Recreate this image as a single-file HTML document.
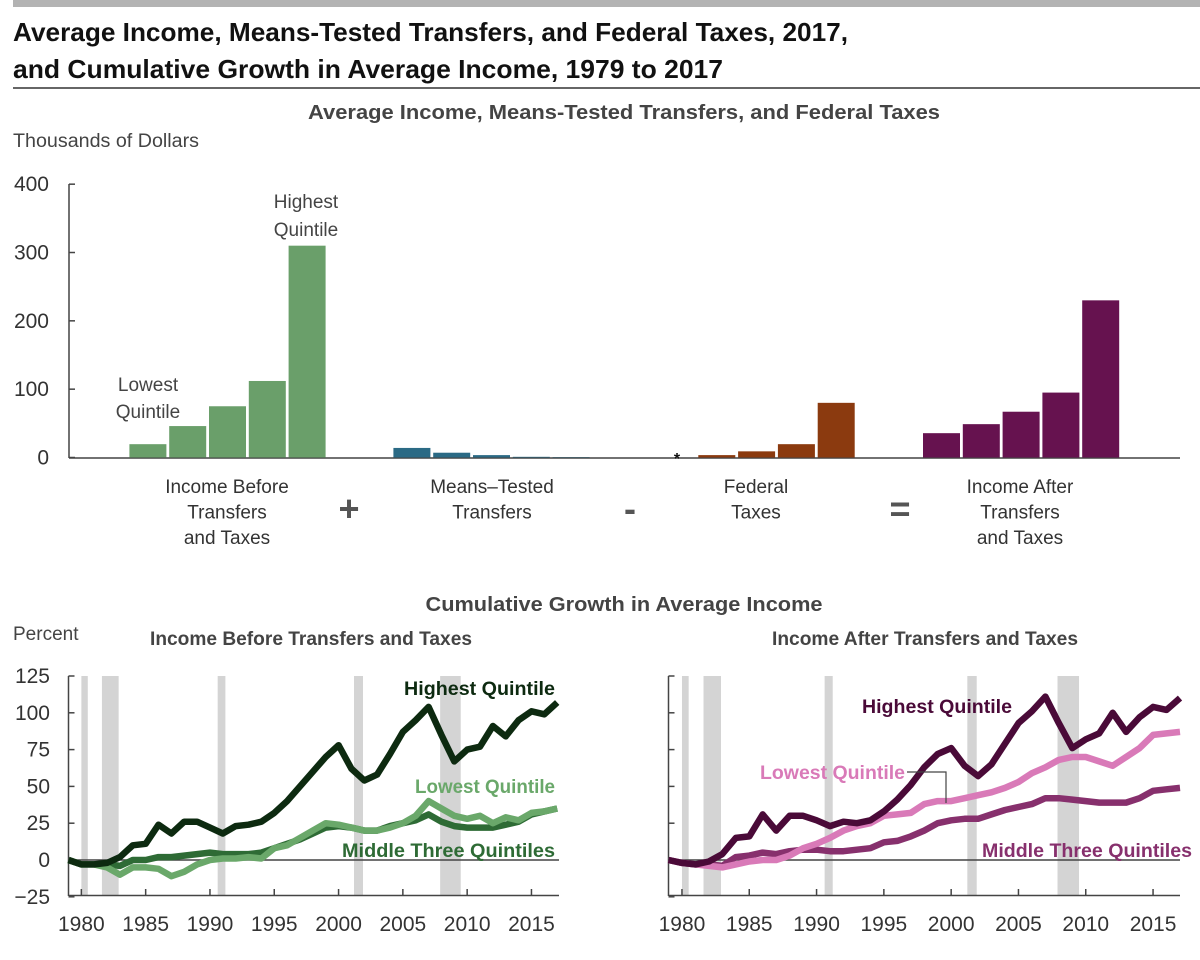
<!DOCTYPE html>
<html><head><meta charset="utf-8">
<style>
html,body{margin:0;padding:0;background:#fff;}
svg{display:block;font-family:"Liberation Sans",sans-serif;}
</style></head>
<body>
<svg id="chart" width="1200" height="960" viewBox="0 0 1200 960" xmlns="http://www.w3.org/2000/svg">
<rect x="13" y="0" width="1187" height="7" fill="#b3b3b3"/>
<text x="13" y="41" font-size="26" font-weight="bold" fill="#111" textLength="835" lengthAdjust="spacingAndGlyphs">Average Income, Means-Tested Transfers, and Federal Taxes, 2017,</text>
<text x="13" y="78" font-size="26" font-weight="bold" fill="#111" textLength="710" lengthAdjust="spacingAndGlyphs">and Cumulative Growth in Average Income, 1979 to 2017</text>
<rect x="13" y="87" width="1187" height="2" fill="#666"/>
<text x="624" y="119" font-size="20" font-weight="bold" fill="#444" text-anchor="middle" textLength="632" lengthAdjust="spacingAndGlyphs">Average Income, Means-Tested Transfers, and Federal Taxes</text>
<text x="13" y="147" font-size="19" fill="#444" textLength="186" lengthAdjust="spacingAndGlyphs">Thousands of Dollars</text>
<g id="bars"></g>
<text x="624" y="611" font-size="20" font-weight="bold" fill="#444" text-anchor="middle" textLength="397" lengthAdjust="spacingAndGlyphs">Cumulative Growth in Average Income</text>
<text x="13" y="640" font-size="19" fill="#444">Percent</text>
<text x="311" y="645" font-size="19" font-weight="bold" fill="#444" text-anchor="middle" textLength="322" lengthAdjust="spacingAndGlyphs">Income Before Transfers and Taxes</text>
<text x="925" y="645" font-size="19" font-weight="bold" fill="#444" text-anchor="middle" textLength="306" lengthAdjust="spacingAndGlyphs">Income After Transfers and Taxes</text>
<g id="left"></g>
<g id="right"></g>
</svg>
<script>
// ---- bar chart data (thousands of dollars) ----
const barGroups = ["Income Before Transfers and Taxes","Means-Tested Transfers","Federal Taxes","Income After Transfers and Taxes"];
const incomeBefore = [19.5, 46, 75, 112, 310];
const transfers = [14, 7, 3.5, 1, 0.5];
const taxes = [0, 3.5, 9, 19.5, 80];
const incomeAfter = [35.6, 48.8, 67, 95, 230];
const barTicks = [0, 100, 200, 300, 400];

// ---- line chart data (percent cumulative growth) ----
const years = [];
for (let y = 1979; y <= 2017; y++) years.push(y);
const beforeHighest = [0,-3,-3,-2,2,10,11,24,18,26,26,22,18,23,24,26,32,40,50,60,70,78,62,54,58,72,87,95,104,85,67,75,77,91,84,95,101,99,107];
const beforeLowest = [0,-3,-3,-5,-10,-5,-5,-6,-11,-8,-3,0,1,1,2,1,8,10,15,20,25,24,22,20,20,22,25,30,40,35,30,28,30,25,29,27,32,33,35];
const beforeMiddle = [0,-3,-3,-3,-4,0,0,2,2,3,4,5,4,4,4,5,8,11,14,18,22,23,22,20,20,23,25,27,31,26,23,22,22,22,24,26,31,33,35];
const afterHighest = [0,-2,-3,-1,4,15,16,31,20,30,30,27,23,26,25,27,33,41,51,63,72,76,64,57,65,79,93,101,111,93,76,82,86,100,87,97,104,102,110];
const afterLowest = [0,-2,-3,-4,-5,-3,-1,0,0,3,8,11,15,20,23,25,30,31,32,38,40,40,42,44,46,49,53,59,63,68,70,70,67,64,70,76,85,86,87];
const afterMiddle = [0,-2,-3,-3,-4,2,3,5,4,6,7,7,6,6,7,8,12,13,16,20,25,27,28,28,31,34,36,38,42,42,41,40,39,39,39,42,47,48,49];
const lineTicks = [-25, 0, 25, 50, 75, 100, 125];
const xTicks = [1980, 1985, 1990, 1995, 2000, 2005, 2010, 2015];
const recessions = [[1980.0,1980.5],[1981.6,1982.9],[1990.6,1991.2],[2001.2,2001.9],[2007.9,2009.5]];

const NS = "http://www.w3.org/2000/svg";
function mk(parent, tag, attrs, text) {
  const e = document.createElementNS(NS, tag);
  for (const k in attrs) e.setAttribute(k, attrs[k]);
  if (text !== undefined) e.textContent = text;
  parent.appendChild(e);
  return e;
}

// ---------- bar chart ----------
const bg = document.getElementById('bars');
const byVal = v => 457.5 - v * 0.6833;
mk(bg, 'line', {x1: 69, y1: 184, x2: 69, y2: 458, stroke: '#444', 'stroke-width': 1.5});
barTicks.forEach(t => {
  const l = mk(bg, 'line', {x1: 69, y1: byVal(t), x2: 75, y2: byVal(t), stroke: '#444', 'stroke-width': 1.5});
  
  
  const tx = mk(bg, 'text', {x: 49, y: byVal(t) + 7, 'font-size': 21, fill: '#333', 'text-anchor': 'end'}, String(t));
  
  
});
mk(bg, 'line', {x1: 69, y1: 458, x2: 1180, y2: 458, stroke: '#444', 'stroke-width': 1.5});
const groupData = [incomeBefore, transfers, taxes, incomeAfter];
const groupColors = ['#6a9f6a', '#2b6a85', '#8b3a0f', '#66124f'];
const groupStart = [129.4, 393.4, 658.5, 923];
const step = 39.8, bw = 37;
groupData.forEach((arr, gi) => {
  arr.forEach((v, i) => {
    const x = groupStart[gi] + i * step;
    if (v <= 0) {
      const s = mk(bg, 'text', {x: x + bw / 2, y: 464, 'font-size': 16, 'font-weight': 'bold', fill: '#111', 'text-anchor': 'middle'}, '*');
      
      
      return;
    }
    const r = mk(bg, 'rect', {x: x, y: byVal(v), width: bw, height: 457.5 - byVal(v), fill: groupColors[gi]});
    
    
  });
});
const gLabelX = [227, 492, 756, 1020];
const gLabelLines = [["Income Before","Transfers","and Taxes"],["Means–Tested","Transfers"],["Federal","Taxes"],["Income After","Transfers","and Taxes"]];
gLabelLines.forEach((lines, gi) => {
  lines.forEach((ln, j) => {
    const t = mk(bg, 'text', {x: gLabelX[gi], y: 493 + j * 25.5, 'font-size': 19, fill: '#333', 'text-anchor': 'middle'}, ln);
    
    
  });
});
[['+', 349, 'plus-sign'], ['-', 630, 'minus-sign'], ['=', 900, 'equals-sign']].forEach(o => {
  const t = mk(bg, 'text', {x: o[1], y: 521, 'font-size': 36, 'font-weight': 'bold', fill: '#555', 'text-anchor': 'middle'}, o[0]);
  
  
});
[['Lowest', 148, 391], ['Quintile', 148, 418], ['Highest', 306, 208], ['Quintile', 306, 236]].forEach(o => {
  const t = mk(bg, 'text', {x: o[1], y: o[2], 'font-size': 19, fill: '#444', 'text-anchor': 'middle'}, o[0]);
  
  
});

// ---------- line charts ----------
const yVal = v => 860 - v * 1.472;
function panel(gid, x0, pxPerYr, xEnd, showY, series, labels) {
  const g = document.getElementById(gid);
  const xYr = y => x0 + (y - 1979) * pxPerYr;
  recessions.forEach(r => {
    const rr = mk(g, 'rect', {x: xYr(r[0]), y: 676, width: xYr(r[1]) - xYr(r[0]), height: 219, fill: '#d4d4d4'});
    
    
  });
  mk(g, 'line', {x1: x0, y1: 676, x2: x0, y2: 896, stroke: '#444', 'stroke-width': 1.5});
  mk(g, 'line', {x1: x0, y1: 895.5, x2: xEnd, y2: 895.5, stroke: '#444', 'stroke-width': 1.5});
  mk(g, 'line', {x1: x0, y1: yVal(0), x2: xEnd, y2: yVal(0), stroke: '#444', 'stroke-width': 1.5});
  lineTicks.forEach(t => {
    const l = mk(g, 'line', {x1: x0, y1: yVal(t), x2: x0 + 6, y2: yVal(t), stroke: '#444', 'stroke-width': 1.5});
    
    
    if (showY) {
      const tx = mk(g, 'text', {x: 50, y: yVal(t) + 7, 'font-size': 21, fill: '#333', 'text-anchor': 'end'}, t < 0 ? '−' + Math.abs(t) : String(t));
      
      
    }
  });
  xTicks.forEach(y => {
    const l = mk(g, 'line', {x1: xYr(y), y1: 889, x2: xYr(y), y2: 896, stroke: '#444', 'stroke-width': 1.5});
    
    
    const tx = mk(g, 'text', {x: xYr(y), y: 931, 'font-size': 21, fill: '#333', 'text-anchor': 'middle'}, String(y));
    
    
  });
  series.forEach(s => {
    const d = s.vals.map((v, i) => (i ? 'L' : 'M') + xYr(years[i]).toFixed(1) + ',' + yVal(v).toFixed(1)).join(' ');
    const p = mk(g, 'path', {d: d, fill: 'none', stroke: s.color, 'stroke-width': 6.5, 'stroke-linejoin': 'round'});
    
    
  });
  labels.forEach(lb => {
    const t = mk(g, 'text', {x: lb.x, y: lb.y, 'font-size': 19, 'font-weight': 'bold', fill: lb.color, 'text-anchor': lb.anchor || 'end', textLength: lb.w, lengthAdjust: 'spacingAndGlyphs'}, lb.text);
    
    
  });
}
panel('left', 68.5, 12.86, 559, true, [
  {vals: beforeMiddle, color: '#2e6b35', name: 'line-before-middle'},
  {vals: beforeLowest, color: '#6aa86a', name: 'line-before-lowest'},
  {vals: beforeHighest, color: '#0d2a10', name: 'line-before-highest'}
], [
  {x: 555, y: 695, text: 'Highest Quintile', color: '#0d2a10', w: 151, name: 'label-before-highest'},
  {x: 555, y: 793, text: 'Lowest Quintile', color: '#6aa86a', w: 140, name: 'label-before-lowest'},
  {x: 555, y: 857, text: 'Middle Three Quintiles', color: '#2e6b35', w: 213, name: 'label-before-middle'}
]);
panel('right', 668.5, 13.46, 1180, false, [
  {vals: afterMiddle, color: '#87306d', name: 'line-after-middle'},
  {vals: afterLowest, color: '#d97ab8', name: 'line-after-lowest'},
  {vals: afterHighest, color: '#4a0a38', name: 'line-after-highest'}
], [
  {x: 862, y: 713, text: 'Highest Quintile', color: '#4a0a38', w: 150, anchor: 'start', name: 'label-after-highest'},
  {x: 760, y: 779, text: 'Lowest Quintile', color: '#d97ab8', w: 145, anchor: 'start', name: 'label-after-lowest'},
  {x: 982, y: 857, text: 'Middle Three Quintiles', color: '#87306d', w: 210, anchor: 'start', name: 'label-after-middle'}
]);
const rg = document.getElementById('right');
const leader = mk(rg, 'polyline', {points: '907,772 946,772 946,803', fill: 'none', stroke: '#444', 'stroke-width': 1.2});


</script>
</body></html>
